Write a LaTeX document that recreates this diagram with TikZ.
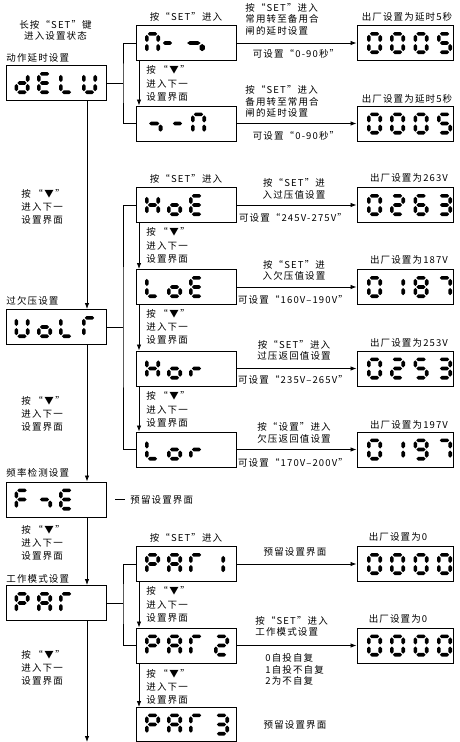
\documentclass[tikz,border=0pt]{standalone}
\usepackage{fontspec}
\usetikzlibrary{arrows.meta}
\newfontfamily\cjk{Noto Sans CJK SC}[LetterSpace=12]
% seven-segment pieces (cell 15 x 22, y downward)
\newcommand\Sga{\fill (2.8,1.8)--(4.6,0)--(10.4,0)--(12.2,1.8)--(10.4,3.6)--(4.6,3.6)--cycle;}
\newcommand\Sgg{\fill (2.8,11)--(4.6,9.2)--(10.4,9.2)--(12.2,11)--(10.4,12.8)--(4.6,12.8)--cycle;}
\newcommand\Sgd{\fill (2.8,20.2)--(4.6,18.4)--(10.4,18.4)--(12.2,20.2)--(10.4,22)--(4.6,22)--cycle;}
\newcommand\Sgf{\fill (1.8,2.8)--(3.6,4.6)--(3.6,8.2)--(1.8,10)--(0,8.2)--(0,4.6)--cycle;}
\newcommand\Sge{\fill (1.8,12)--(3.6,13.8)--(3.6,17.4)--(1.8,19.2)--(0,17.4)--(0,13.8)--cycle;}
\newcommand\Sgb{\fill (13.2,2.8)--(15,4.6)--(15,8.2)--(13.2,10)--(11.4,8.2)--(11.4,4.6)--cycle;}
\newcommand\Sgc{\fill (13.2,12)--(15,13.8)--(15,17.4)--(13.2,19.2)--(11.4,17.4)--(11.4,13.8)--cycle;}
\newcommand\glyph[4][1]{\begin{scope}[shift={(#2,#3)},xscale=#1]\foreach \s in #4 {\csname Sg\s\endcsname}\end{scope}}
\newcommand\sgZero{a,b,c,d,e,f}
\newcommand\sgOne{b,c}
\newcommand\sgTwo{a,b,g,e,d}
\newcommand\sgThree{a,b,g,c,d}
\newcommand\sgFive{a,f,g,c,d}
\newcommand\sgSix{a,f,g,e,c,d}
\newcommand\sgSeven{a,b,c}
\newcommand\sgEight{a,b,c,d,e,f,g}
\newcommand\sgNine{a,b,c,d,f,g}
\newcommand\sgD{b,c,d,e,g}
\newcommand\sgE{a,d,e,f,g}
\newcommand\sgL{d,e,f}
\newcommand\sgU{b,c,d,e,f}
\newcommand\sgN{a,b,c,e,f}
\newcommand\sgMinus{g}
\newcommand\sgNeg{g,c}
\newcommand\sgO{c,d,e,g}
\newcommand\sgGam{a,e,f}
\newcommand\sgF{a,e,f,g}
\newcommand\sgH{b,c,e,f,g}
\newcommand\sgR{e,g}
\newcommand\sgP{a,b,e,f,g}
\newcommand\sgA{a,b,c,e,f,g}
\newcommand\downtxt{按\hspace{2.5pt}“\hspace{1.5pt}▼\hspace{1.5pt}”\\进入下一\\设置界面}
\begin{document}
\begin{tikzpicture}[x=1pt,y=-1pt,line width=0.8pt,
  box/.style={draw,line width=1pt,minimum width=100pt,minimum height=35pt,inner sep=0pt},
  vbox/.style={box,minimum width=96pt},
  txt/.style={font=\cjk\fontsize{9.5}{11.5}\selectfont,inner sep=0pt},
  txtl/.style={txt,align=left},
  txtc/.style={txt,align=center},
  dlbl/.style={inner sep=0pt,align=left,anchor=west,font=\cjk\fontsize{9.5}{13.2}\selectfont},
  arr/.style={-{Latex[length=6pt,width=4.5pt]}}]
\useasboundingbox (0,0) rectangle (459,742);

% ---------- boxes ----------
\node[box] (L1) at (56,83) {};
\node[box] (L2) at (56,327) {};
\node[box] (L3) at (56,499.5) {};
\node[box] (L4) at (56,603) {};
\node[box] (S1) at (186,43) {};
\node[box] (S2) at (186,123.5) {};
\node[box] (S3) at (186,205) {};
\node[box] (S4) at (186,287) {};
\node[box] (S5) at (186,368.5) {};
\node[box] (S6) at (186,449.5) {};
\node[box] (S7) at (186,564) {};
\node[box] (S8) at (186,645.5) {};
\node[box,minimum height=34pt] (S9) at (186,724.5) {};
\node[vbox] (V1) at (405,43) {};
\node[vbox] (V2) at (405,123.5) {};
\node[vbox] (V3) at (405,205) {};
\node[vbox] (V4) at (405,287) {};
\node[vbox] (V5) at (405,368.5) {};
\node[vbox] (V6) at (405,449.5) {};
\node[vbox] (V7) at (405,564) {};
\node[vbox] (V8) at (405,645.5) {};

% ---------- seven-segment contents ----------
\glyph{14.5}{72}{\sgD}\glyph{37}{72}{\sgE}\glyph{59}{72}{\sgL}\glyph{82}{72}{\sgU}
\glyph{14.5}{316}{\sgU}\glyph{37}{316}{\sgO}\glyph{59}{316}{\sgL}\glyph{82}{316}{\sgGam}
\glyph{14.5}{488.5}{\sgF}\glyph{37}{488.5}{\sgNeg}\glyph{59}{488.5}{\sgE}
\glyph{14.5}{592}{\sgP}\glyph{37}{592}{\sgA}\glyph{59}{592}{\sgGam}

\glyph{145}{32}{\sgN}\glyph{160}{32}{\sgMinus}\glyph[1.45]{183}{32}{\sgNeg}
\glyph[1.1]{146}{112.5}{\sgNeg}\glyph{170}{112.5}{\sgMinus}\glyph{191}{112.5}{\sgN}
\glyph{145}{194}{\sgH}\glyph{167}{194}{\sgO}\glyph{189}{194}{\sgE}
\glyph{145}{276}{\sgL}\glyph{167}{276}{\sgO}\glyph{189}{276}{\sgE}
\glyph{145}{357.5}{\sgH}\glyph{167}{357.5}{\sgO}\glyph{189}{357.5}{\sgR}
\glyph{145}{438.5}{\sgL}\glyph{167}{438.5}{\sgO}\glyph{189}{438.5}{\sgR}
\glyph{145}{553}{\sgP}\glyph{167}{553}{\sgA}\glyph{189}{553}{\sgGam}\glyph{210}{553}{\sgOne}
\glyph{145}{634.5}{\sgP}\glyph{167}{634.5}{\sgA}\glyph{189}{634.5}{\sgGam}\glyph{214}{634.5}{\sgTwo}
\glyph{145}{713.5}{\sgP}\glyph{167}{713.5}{\sgA}\glyph{189}{713.5}{\sgGam}\glyph{214}{713.5}{\sgThree}

\glyph{367}{32}{\sgZero}\glyph{390}{32}{\sgZero}\glyph{413.5}{32}{\sgZero}\glyph{437}{32}{\sgFive}
\glyph{367}{112.5}{\sgZero}\glyph{390}{112.5}{\sgZero}\glyph{413.5}{112.5}{\sgZero}\glyph{437}{112.5}{\sgFive}
\glyph{367}{194}{\sgZero}\glyph{390}{194}{\sgTwo}\glyph{413.5}{194}{\sgSix}\glyph{437}{194}{\sgThree}
\glyph{367}{276}{\sgZero}\glyph{390}{276}{\sgOne}\glyph{413.5}{276}{\sgEight}\glyph{437}{276}{\sgSeven}
\glyph{367}{357.5}{\sgZero}\glyph{390}{357.5}{\sgTwo}\glyph{413.5}{357.5}{\sgFive}\glyph{437}{357.5}{\sgThree}
\glyph{367}{438.5}{\sgZero}\glyph{390}{438.5}{\sgOne}\glyph{413.5}{438.5}{\sgNine}\glyph{437}{438.5}{\sgSeven}
\glyph{367}{553}{\sgZero}\glyph{390}{553}{\sgZero}\glyph{413.5}{553}{\sgZero}\glyph{437}{553}{\sgZero}
\glyph{367}{634.5}{\sgZero}\glyph{390}{634.5}{\sgZero}\glyph{413.5}{634.5}{\sgZero}\glyph{437}{634.5}{\sgZero}

% ---------- connectors ----------
\coordinate (j1) at (123,83);
\coordinate (j2) at (123,327);
\coordinate (j4) at (123,603);
\draw (L1.east) -- (j1);
\draw (S1.west) -| (j1) |- (S2.west);
\draw (L2.east) -- (j2);
\draw (S3.west) -| (j2) |- (S6.west);
\draw (L4.east) -- (j4);
\draw (S7.west) -| (j4) |- (S8.west);
\coordinate (f1) at (115,499.5);
\coordinate (f2) at (125,499.5);
\draw (f1) -- (f2);

\draw[arr] ([xshift=31pt]L1.south) -- ([xshift=31pt]L2.north);
\draw[arr] ([xshift=31pt]L2.south) -- ([xshift=31pt]L3.north);
\draw[arr] ([xshift=31pt]L3.south) -- ([xshift=31pt]L4.north);
\coordinate (bot) at (87,742);
\draw[arr] ([xshift=31pt]L4.south) -- (bot);

\foreach \a/\b in {S1/S2,S3/S4,S4/S5,S5/S6,S7/S8,S8/S9}
  \draw[arr] ([xshift=-47pt]\a.south) -- ([xshift=-47pt]\b.north);
\foreach \i in {1,...,8}
  \draw[arr] (S\i.east) -- (V\i.west);

% ---------- texts ----------
\node[txtc] (t1) at (55.5,25) {长按“SET”键};
\node[txtc] (t2) at (55.5,36) {进入设置状态};
\node[txt,anchor=west] (h1) at (6,58) {动作延时设置};
\node[txt,anchor=west] (h2) at (6,301) {过欠压设置};
\node[txt,anchor=west] (h3) at (6,473) {频率检测设置};
\node[txt,anchor=west] (h4) at (6,579) {工作模式设置};

\node[dlbl] (d1) at (21,207) {\downtxt};
\node[dlbl] (d2) at (21,414) {\downtxt};
\node[dlbl] (d3) at (21,543) {\downtxt};
\node[dlbl] (d4) at (21,668) {\downtxt};

\node[dlbl] (e1) at (146,83.5) {\downtxt};
\node[dlbl] (e2) at (146,245.5) {\downtxt};
\node[dlbl] (e3) at (146,327) {\downtxt};
\node[dlbl] (e4) at (146,409.5) {\downtxt};
\node[dlbl] (e5) at (146,604.5) {\downtxt};
\node[dlbl] (e6) at (146,687) {\downtxt};

\node[txt] (s1) at (186,16.5) {按“SET”进入};
\node[txt] (s3) at (186,178.5) {按“SET”进入};
\node[txt] (s7) at (186,537.5) {按“SET”进入};

\node[txtl,anchor=west] (r1a) at (245,19) {按“SET”进入\\常用转至备用合\\闸的延时设置};
\node[txt] (r1b) at (296,54) {可设置“0-90秒”};
\node[txtl,anchor=west] (r2a) at (245,101.5) {按“SET”进入\\备用转至常用合\\闸的延时设置};
\node[txt] (r2b) at (296,136) {可设置“0-90秒”};
\node[txtc] (r3a) at (294,189) {按“SET”进\\入过压值设置};
\node[txt] (r3b) at (293,218) {可设置“245V-275V”};
\node[txtc] (r4a) at (294,270.5) {按“SET”进\\入欠压值设置};
\node[txt] (r4b) at (293,300) {可设置“160V–190V”};
\node[txtc] (r5a) at (294,350.5) {按“SET”进入\\过压返回值设置};
\node[txt] (r5b) at (293,380) {可设置“235V–265V”};
\node[txtc] (r6a) at (294,433) {按“设置”进入\\欠压返回值设置};
\node[txt] (r6b) at (293,463) {可设置“170V–200V”};
\node[txt] (r7a) at (295,552) {预留设置界面};
\node[txtl,anchor=west] (r8a) at (255,626.5) {按“SET”进入\\工作模式设置};
\node[txtl,anchor=west] (r8b) at (265,669.5) {0自投自复\\1自投不自复\\2为不自复};
\node[txt] (r9a) at (295,725) {预留设置界面};
\node[txt,anchor=west] (fn) at (130,499.5) {预留设置界面};

\node[txt] (v1) at (407,17) {出厂设置为延时5秒};
\node[txt] (v2) at (407,99) {出厂设置为延时5秒};
\node[txt] (v3) at (409,178) {出厂设置为263V};
\node[txt] (v4) at (409,260) {出厂设置为187V};
\node[txt] (v5) at (409,343) {出厂设置为253V};
\node[txt] (v6) at (409,425) {出厂设置为197V};
\node[txt] (v7) at (398,537) {出厂设置为0};
\node[txt] (v8) at (398,619) {出厂设置为0};
\end{tikzpicture}
\end{document}
